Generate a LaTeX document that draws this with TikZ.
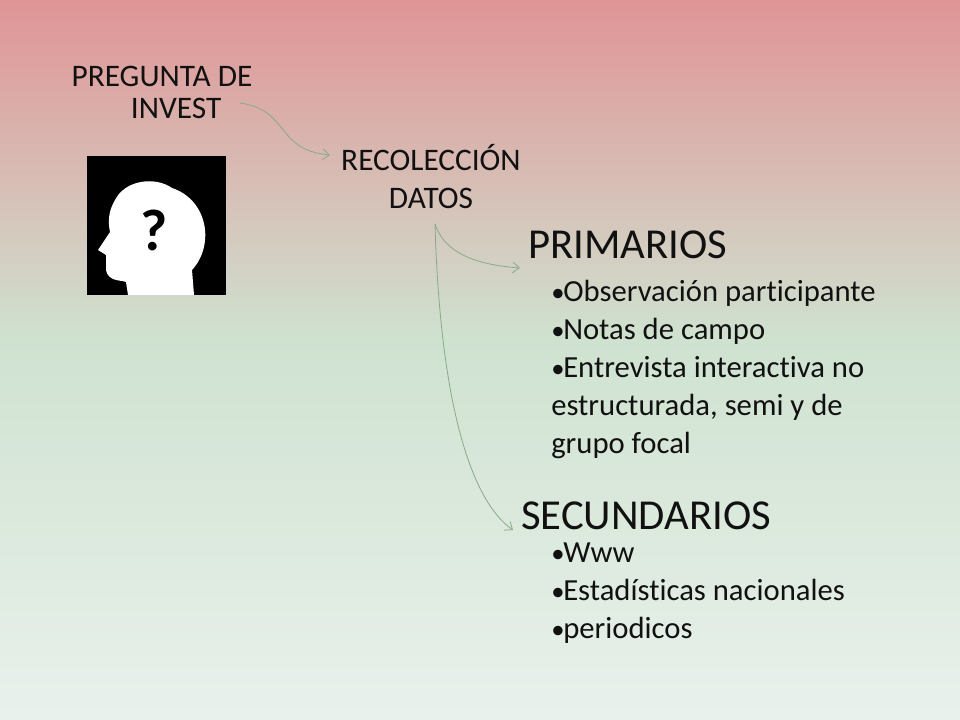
\documentclass[tikz,border=0pt]{standalone}
\usepackage{fontspec}
\setmainfont[Ligatures=NoCommon]{Carlito}
\usetikzlibrary{arrows.meta}
\definecolor{topc}{HTML}{E09496}
\definecolor{midc}{HTML}{CFE2D0}
\definecolor{botc}{HTML}{E9F1EC}
\definecolor{arr}{HTML}{88AA88}
\definecolor{txt}{HTML}{111111}
\newcommand{\bul}{\makebox[9pt][l]{\fontsize{20}{20}\selectfont\textbullet}}
\begin{document}
\begin{tikzpicture}[x=0.75pt,y=-0.75pt,
  lbl/.style={text=txt,font=\fontsize{23.5}{24}\selectfont,inner sep=0,align=center},
  big/.style={text=txt,font=\fontsize{32}{34}\selectfont,inner sep=0,anchor=west},
  item/.style={text=txt,font=\fontsize{23}{28.5}\selectfont,inner sep=0,anchor=north west,align=left},
  conn/.style={draw=arr,line width=0.6pt,-{Straight Barb[length=5pt,width=8pt]}}]
\useasboundingbox (0,0) rectangle (960,720);
\shade[top color=topc,bottom color=midc] (0,0) rectangle (960,340);
\shade[top color=midc,bottom color=botc] (0,340) rectangle (960,720);
% icon
\fill[black] (87,156) rectangle (226,295);
\fill[white] (172,188) .. controls (155,176) and (125,180) .. (115,200)
  .. controls (108,212) and (108,222) .. (110,232)
  -- (98,250) -- (106,255) -- (106,270) .. controls (108,282) and (122,280) .. (126,282)
  -- (128,295) -- (194,295) -- (192,270)
  .. controls (215,245) and (208,200) .. (172,188) -- cycle;
\node[font=\fontsize{44}{44}\selectfont\bfseries,inner sep=0] (q) at (154,230) {?};
\node[lbl] (preg) at (162,92) {PREGUNTA DE\\\hspace*{0.9em}INVEST};
\node[lbl] (rec) at (431,177) {RECOLECCIÓN\\[4.5pt]DATOS};
\node[big] (prim) at (528,245) {PRIMARIOS};
\node[big] (sec) at (521,516) {SECUNDARIOS};
\node[item] (pl) at (551,280) {\bul Observación participante\\
\bul Notas de campo\\
\bul Entrevista interactiva no\\estructurada, semi y de\\grupo focal};
\node[item] (sl) at (551,543) {\bul Www\\
\bul Estadísticas nacionales\\
\bul periodicos};
\coordinate (a0) at (240,103);
\coordinate (a1) at (330,155);
\coordinate (b0) at (435,224);
\coordinate (b1) at (520,268);
\coordinate (c1) at (513,530);
\draw[conn] (a0) .. controls (290,110) and (275,150) .. (a1);
\draw[conn] (b0) .. controls (445,255) and (480,265) .. (b1);
\draw[conn] (b0) .. controls (440,400) and (470,500) .. (c1);
\end{tikzpicture}
\end{document}
